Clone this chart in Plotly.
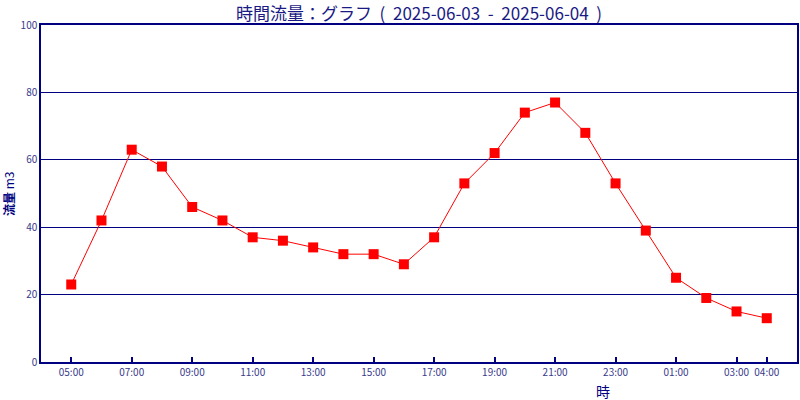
import plotly.graph_objects as go

hours = ["05:00", "06:00", "07:00", "08:00", "09:00", "10:00", "11:00", "12:00",
         "13:00", "14:00", "15:00", "16:00", "17:00", "18:00", "19:00", "20:00",
         "21:00", "22:00", "23:00", "00:00", "01:00", "02:00", "03:00", "04:00"]
flow = [23, 42, 63, 58, 46, 42, 37, 36, 34, 32, 32, 29, 37, 53, 62, 74,
        77, 68, 53, 39, 25, 19, 15, 13]
tick_labels = ["05:00", "07:00", "09:00", "11:00", "13:00", "15:00", "17:00",
               "19:00", "21:00", "23:00", "01:00", "03:00", "04:00"]
y_ticks = [0, 20, 40, 60, 80, 100]

title_text = "時間流量：グラフ  (  2025-06-03  -  2025-06-04  )"
x_title = "時"
y_title = "<b>流量</b> m3"

NAVY = "#000080"
TITLEC = "#1a1a85"
TICKC = "#3a3a8c"
FONT = "Noto Sans CJK JP"

fig = go.Figure()
fig.add_trace(go.Scatter(
    x=hours, y=flow, mode="lines+markers",
    line=dict(color="#ff0000", width=1),
    marker=dict(symbol="square", size=10, color="#ff0000", line=dict(width=0)),
    showlegend=False, hoverinfo="x+y"
))

fig.update_layout(
    width=800, height=400, autosize=False,
    margin=dict(l=41, r=1, t=25, b=38),
    paper_bgcolor="white", plot_bgcolor="white",
    font=dict(family=FONT, color=TICKC, size=10),
    title=dict(text=title_text, x=0.5, xref="paper", y=0.966, yref="container",
               yanchor="middle", font=dict(family=FONT, size=17, color=TITLEC)),
    xaxis=dict(type="category", range=[-1, 24], tickmode="array",
               tickvals=tick_labels, ticktext=tick_labels,
               ticks="inside", ticklen=5, tickcolor=NAVY, tickwidth=1.5,
               showgrid=False, showline=True, linecolor=NAVY, linewidth=1.5,
               mirror=True, zeroline=False,
               tickfont=dict(family=FONT, size=10, color=TICKC)),
    yaxis=dict(range=[0, 100], tickmode="array", tickvals=y_ticks,
               showgrid=True, gridcolor=NAVY, gridwidth=1.2,
               showline=True, linecolor=NAVY, linewidth=1.5, mirror=True,
               zeroline=False, ticks="",
               tickfont=dict(family=FONT, size=10, color=TICKC)),
    annotations=[
        dict(text=x_title, x=0.744, y=-0.086, xref="paper", yref="paper",
             xanchor="center", yanchor="middle", showarrow=False,
             font=dict(family=FONT, size=14, color=NAVY)),
        dict(text=y_title, x=-0.043, y=0.5, xref="paper", yref="paper",
             xanchor="center", yanchor="middle", showarrow=False, textangle=-90,
             font=dict(family=FONT, size=12, color=NAVY)),
    ],
)
fig.write_html("out.html", config={"displayModeBar": False},
               post_script="document.body.style.margin='0';document.body.style.overflow='hidden';")
